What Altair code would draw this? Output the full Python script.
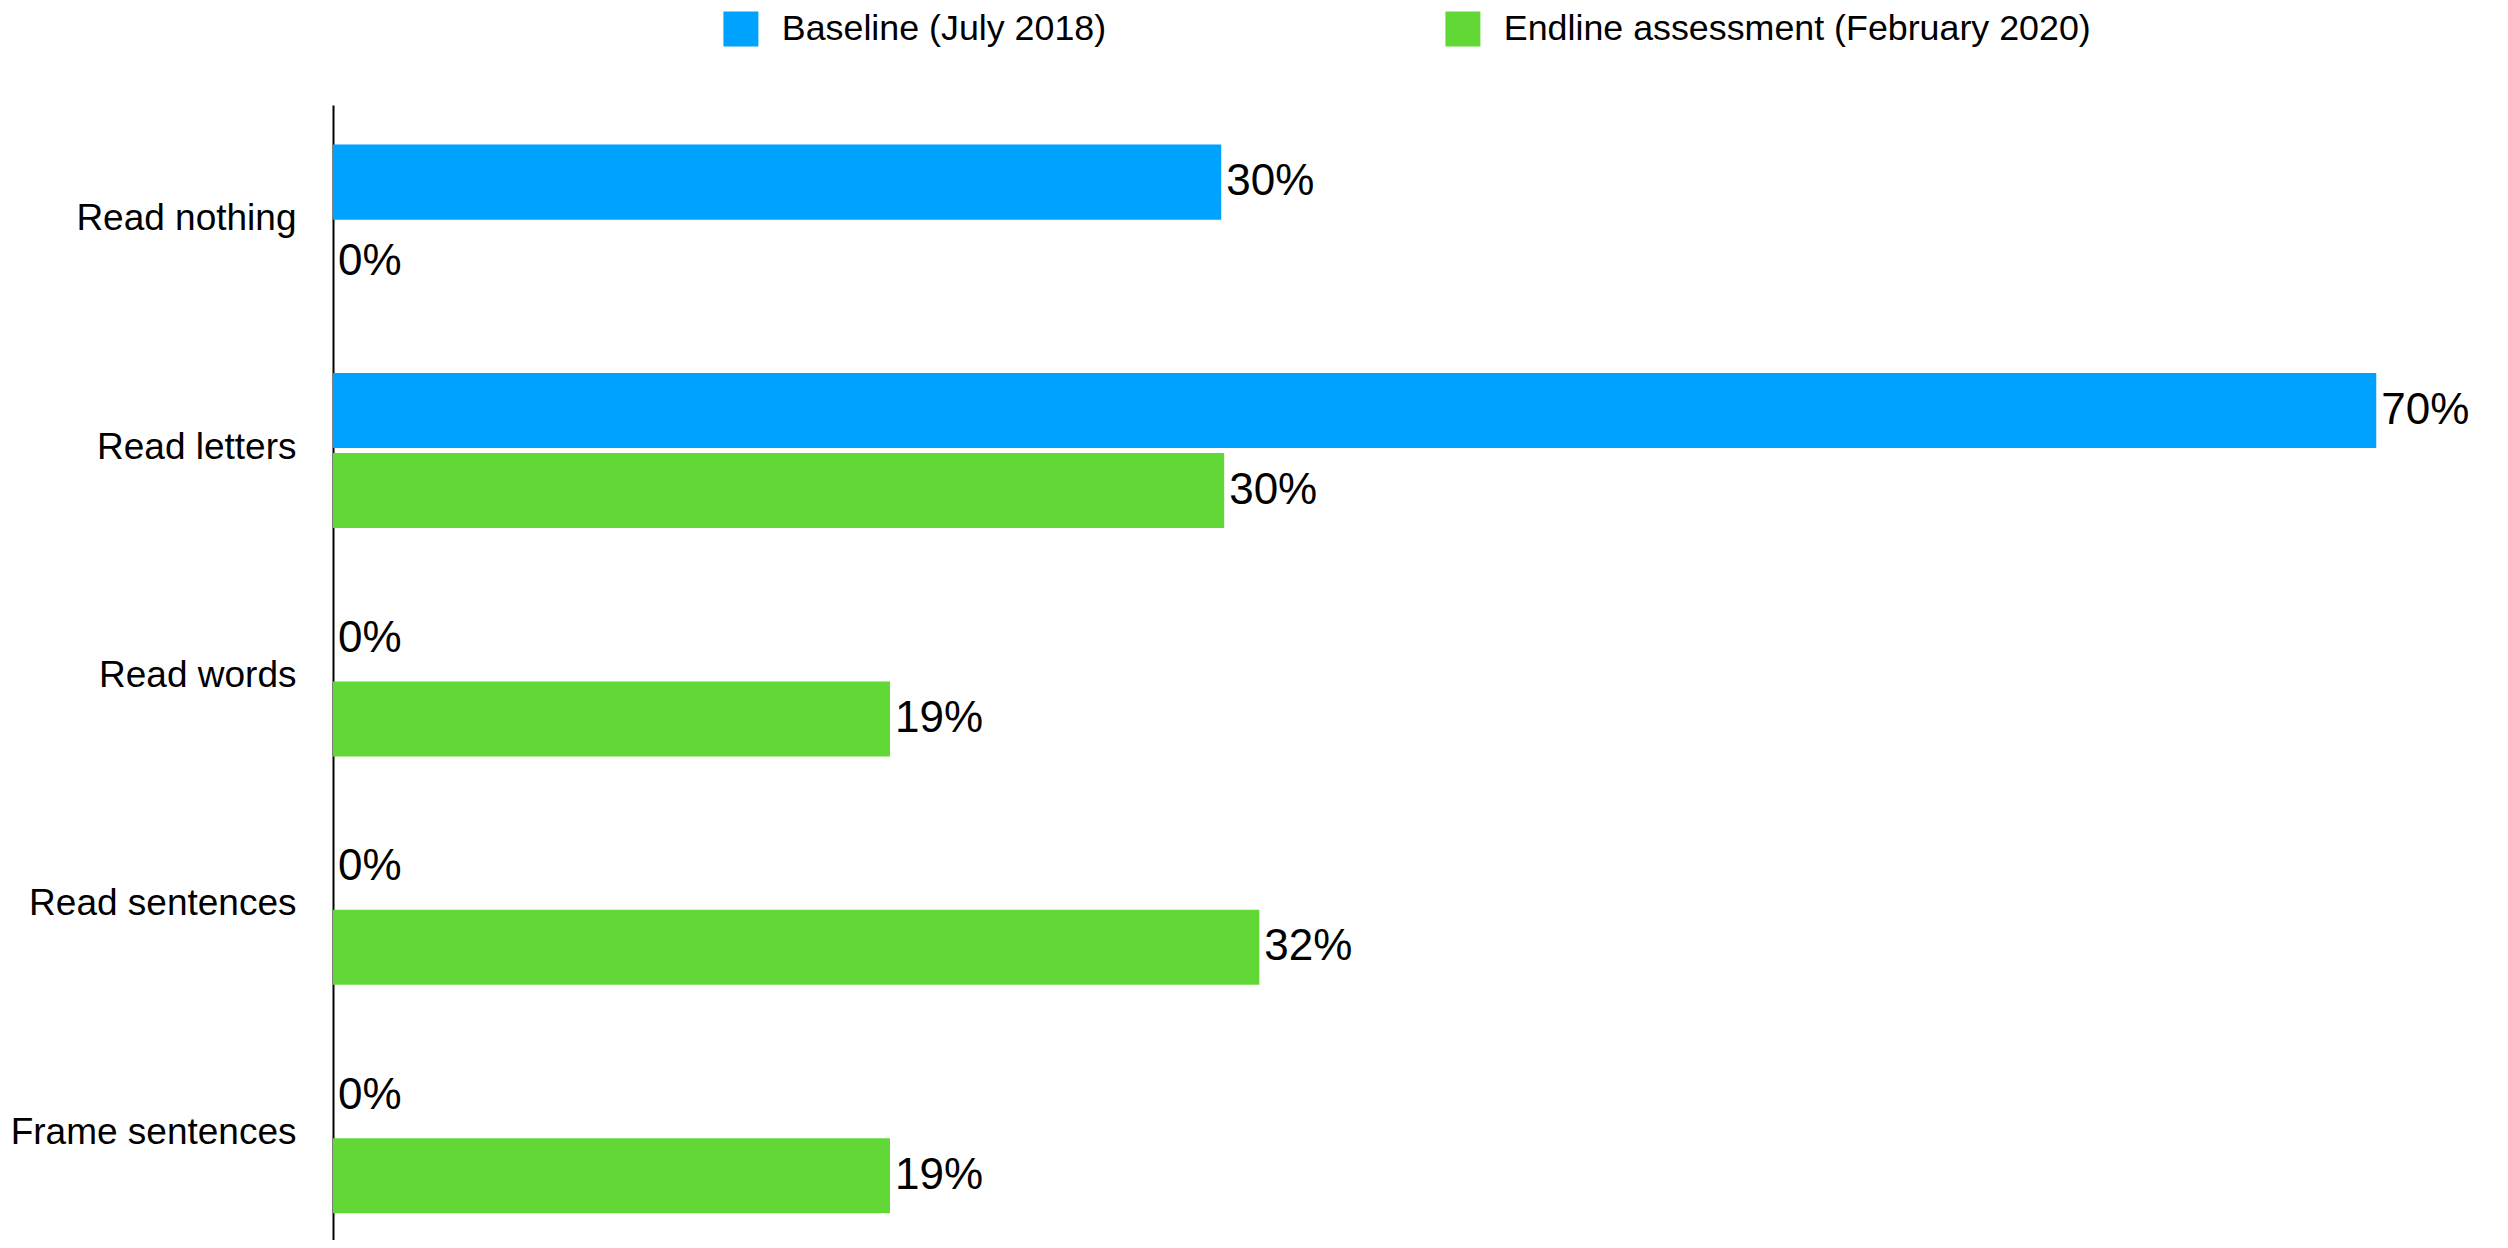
import altair as alt
import pandas as pd

categories = ["Read nothing", "Read letters", "Read words", "Read sentences", "Frame sentences"]
series = ["Baseline (July 2018)", "Endline assessment (February 2020)"]
baseline = [30.3, 69.7, 0, 0, 0]
endline = [0, 30.4, 19.0, 31.6, 19.0]
colors = ["#00A2FF", "#61D836"]

rows = []
for c, b, e in zip(categories, baseline, endline):
    rows.append({"category": c, "series": series[0], "value": b, "label": f"{round(b)}%"})
    rows.append({"category": c, "series": series[1], "value": e, "label": f"{round(e)}%"})
df = pd.DataFrame(rows)

FONT = "Liberation Sans"

base = alt.Chart(df).encode(
    y=alt.Y("category:N", sort=categories, title=None,
            scale=alt.Scale(paddingInner=0, paddingOuter=0),
            axis=alt.Axis(ticks=False, tickSize=0, labelPadding=37, labelFontSize=37,
                          labelFont=FONT, labelColor="black", domainColor="black",
                          domainWidth=2, grid=False, labelLimit=500)),
    yOffset=alt.YOffset("series:N", sort=series,
                        scale=alt.Scale(paddingInner=0.0625, paddingOuter=0.458, align=0.54)),
    x=alt.X("value:Q", title=None, scale=alt.Scale(domain=[0, 73], nice=False),
            axis=None),
)

bars = base.mark_bar().encode(
    color=alt.Color("series:N", sort=series,
                    scale=alt.Scale(domain=series, range=colors),
                    legend=alt.Legend(title=None, orient="none", direction="horizontal",
                                      legendX=390, legendY=-94, symbolType="square",
                                      symbolSize=1225, symbolStrokeWidth=0,
                                      labelFontSize=35.8, labelFont=FONT, labelColor="black",
                                      labelOffset=23, columnPadding=338, padding=0,
                                      labelLimit=800))
)

text = base.mark_text(align="left", baseline="middle", dx=5, fontSize=44,
                      font=FONT, color="black").encode(text="label:N")

chart = (bars + text).properties(
    width=2140, height=1142,
    padding={"left": 2, "top": 3, "right": 5, "bottom": -7},
).configure_view(stroke=None)

chart.save("out.html", embed_options={"renderer": "svg", "actions": False})
